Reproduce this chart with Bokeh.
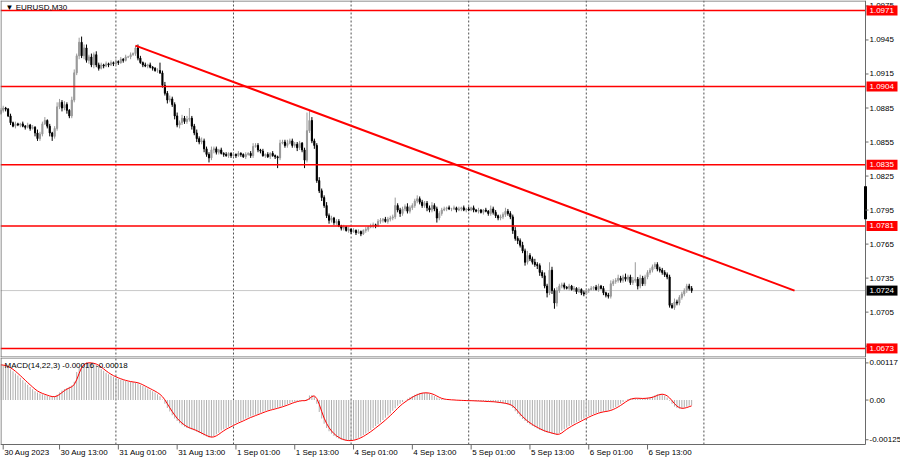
import numpy as np
from bokeh.plotting import figure
from bokeh.layouts import column
from bokeh.models import Range1d, Span, ColumnDataSource
from bokeh.core.properties import value
from bokeh.embed import file_html
from bokeh.resources import INLINE

# ---------------- data (EURUSD, M30) ----------------
first_open = 1.0880
closes = [
    1.0883, 1.0885, 1.0884, 1.0878, 1.0872, 1.0869, 1.0871, 1.0870, 1.0871, 1.0869,
    1.0868, 1.0870, 1.0867, 1.0868, 1.0863, 1.0858, 1.0862, 1.0871, 1.0874, 1.0869,
    1.0863, 1.0860, 1.0867, 1.0886, 1.0890, 1.0885, 1.0888, 1.0883, 1.0878, 1.0892,
    1.0916, 1.0931, 1.0943, 1.0931, 1.0938, 1.0927, 1.0930, 1.0923, 1.0932, 1.0923,
    1.0920, 1.0923, 1.0922, 1.0924, 1.0923, 1.0925, 1.0924, 1.0926, 1.0925, 1.0928,
    1.0927, 1.0930, 1.0930, 1.0932, 1.0933, 1.0938, 1.0929, 1.0925, 1.0923, 1.0922,
    1.0923, 1.0921, 1.0920, 1.0918, 1.0918, 1.0916, 1.0905, 1.0898, 1.0892, 1.0893,
    1.0888, 1.0878, 1.0870, 1.0872, 1.0876, 1.0873, 1.0875, 1.0876, 1.0869, 1.0863,
    1.0858, 1.0855, 1.0856, 1.0849, 1.0844, 1.0841, 1.0848, 1.0849, 1.0846, 1.0848,
    1.0845, 1.0844, 1.0843, 1.0845, 1.0843, 1.0844, 1.0843, 1.0845, 1.0844, 1.0842,
    1.0844, 1.0845, 1.0843, 1.0851, 1.0852, 1.0848, 1.0847, 1.0843, 1.0844, 1.0842,
    1.0845, 1.0843, 1.0842, 1.0841, 1.0854, 1.0855, 1.0852, 1.0854, 1.0856, 1.0852,
    1.0853, 1.0850, 1.0854, 1.0848, 1.0839, 1.0865, 1.0874, 1.0856, 1.0852, 1.0821,
    1.0812, 1.0806, 1.0799, 1.0790, 1.0786, 1.0788, 1.0784, 1.0785, 1.0781, 1.0779,
    1.0780, 1.0777, 1.0778, 1.0776, 1.0777, 1.0775, 1.0776, 1.0774, 1.0777, 1.0778,
    1.0780, 1.0781, 1.0782, 1.0781, 1.0785, 1.0786, 1.0787, 1.0785, 1.0787, 1.0788,
    1.0789, 1.0799, 1.0795, 1.0792, 1.0796, 1.0798, 1.0794, 1.0797, 1.0799, 1.0803,
    1.0805, 1.0802, 1.0799, 1.0801, 1.0797, 1.0795, 1.0799, 1.0796, 1.0788, 1.0792,
    1.0795, 1.0796, 1.0797, 1.0796, 1.0796, 1.0797, 1.0795, 1.0796, 1.0797, 1.0795,
    1.0796, 1.0795, 1.0797, 1.0795, 1.0794, 1.0795, 1.0793, 1.0795, 1.0794, 1.0792,
    1.0796, 1.0793, 1.0790, 1.0788, 1.0789, 1.0791, 1.0794, 1.0792, 1.0789, 1.0777,
    1.0770, 1.0768, 1.0764, 1.0759, 1.0749, 1.0755, 1.0752, 1.0749, 1.0747, 1.0746,
    1.0740, 1.0737, 1.0728, 1.0722, 1.0742, 1.0724, 1.0713, 1.0724, 1.0728, 1.0729,
    1.0727, 1.0726, 1.0728, 1.0725, 1.0726, 1.0723, 1.0725, 1.0722, 1.0721, 1.0724,
    1.0725, 1.0726, 1.0727, 1.0725, 1.0728, 1.0726, 1.0722, 1.0720, 1.0719, 1.0730,
    1.0732, 1.0733, 1.0735, 1.0733, 1.0736, 1.0734, 1.0736, 1.0731, 1.0733, 1.0734,
    1.0728, 1.0735, 1.0730, 1.0736, 1.0740, 1.0742, 1.0745, 1.0747, 1.0743, 1.0742,
    1.0740, 1.0738, 1.0736, 1.0711, 1.0709, 1.0714, 1.0713, 1.0718, 1.0721, 1.0724,
    1.0728, 1.0726, 1.0724,
]
# wick lengths above / below the candle body, in pips
upper_wick_pips = [
    2, 2, 1, 1, 2, 1, 2, 1, 1, 2,   1, 2, 1, 2, 1, 3, 2, 2, 3, 1,
    2, 1, 2, 4, 3, 2, 3, 2, 1, 3,   3, 2, 4, 5, 3, 3, 2, 3, 2, 3,
    2, 2, 1, 2, 1, 2, 1, 2, 1, 2,   1, 2, 1, 2, 1, 2, 3, 2, 1, 2,
    1, 2, 1, 1, 2, 7, 2, 3, 2, 3,   2, 2, 3, 2, 3, 2, 3, 9, 2, 2,
    3, 2, 3, 2, 2, 2, 3, 2, 2, 1,   2, 1, 2, 1, 1, 2, 1, 2, 1, 1,
    2, 1, 2, 3, 2, 2, 1, 2, 1, 2,   1, 2, 1, 1, 3, 2, 2, 3, 2, 2,
    2, 2, 2, 1, 2, 16, 9, 3, 2, 2,  3, 2, 2, 3, 2, 2, 1, 2, 2, 1,
    2, 1, 2, 1, 2, 1, 2, 1, 1, 2,   1, 2, 2, 1, 2, 2, 1, 2, 2, 2,
    2, 7, 2, 2, 2, 2, 3, 2, 2, 2,   3, 2, 2, 2, 2, 2, 3, 2, 2, 2,
    2, 2, 1, 2, 1, 2, 1, 2, 1, 2,   1, 2, 1, 2, 1, 2, 1, 1, 2, 1,
    3, 2, 2, 1, 2, 2, 3, 2, 2, 2,   3, 2, 2, 3, 2, 4, 2, 2, 3, 2,
    2, 2, 3, 2, 7, 3, 2, 3, 2, 2,   2, 1, 2, 1, 2, 1, 2, 1, 2, 2,
    1, 2, 1, 2, 2, 1, 2, 1, 2, 3,   2, 2, 3, 2, 2, 3, 2, 2, 3, 15,
    2, 3, 2, 2, 2, 2, 2, 2, 2, 2,   2, 2, 2, 2, 2, 3, 2, 2, 2, 2,
    2, 2, 2,
]
lower_wick_pips = [
    1, 2, 2, 1, 2, 1, 2, 1, 2, 1,   2, 1, 2, 1, 3, 2, 2, 2, 1, 2,
    3, 4, 2, 2, 2, 3, 2, 3, 2, 2,   2, 2, 3, 2, 3, 2, 3, 2, 3, 2,
    2, 1, 2, 1, 2, 1, 2, 1, 2, 1,   2, 1, 1, 2, 1, 2, 2, 1, 2, 1,
    2, 1, 2, 1, 2, 1, 2, 2, 3, 2,   2, 3, 2, 3, 2, 2, 2, 2, 3, 2,
    3, 2, 2, 3, 2, 4, 2, 3, 2, 2,   1, 2, 1, 2, 2, 1, 2, 1, 2, 1,
    2, 1, 2, 2, 1, 2, 2, 1, 2, 1,   2, 1, 2, 9, 2, 1, 2, 2, 1, 2,
    2, 3, 2, 2, 7, 2, 2, 2, 3, 2,   2, 3, 2, 2, 3, 2, 2, 2, 1, 2,
    2, 1, 2, 2, 1, 2, 1, 2, 1, 2,   2, 1, 2, 2, 1, 2, 2, 1, 2, 2,
    2, 2, 2, 3, 2, 2, 2, 2, 2, 2,   2, 2, 2, 2, 3, 2, 2, 2, 4, 2,
    2, 1, 2, 1, 2, 1, 2, 1, 2, 1,   2, 1, 1, 2, 1, 2, 1, 2, 1, 2,
    2, 2, 2, 2, 2, 2, 2, 2, 2, 3,   2, 3, 2, 2, 3, 2, 2, 2, 2, 3,
    3, 2, 2, 4, 2, 3, 5, 3, 2, 2,   2, 1, 2, 1, 2, 2, 1, 2, 2, 1,
    2, 1, 2, 1, 2, 1, 2, 2, 2, 2,   2, 2, 2, 2, 2, 2, 2, 2, 2, 2,
    3, 2, 2, 2, 2, 2, 2, 2, 2, 2,   2, 2, 2, 2, 1, 2, 2, 2, 2, 2,
    2, 2, 2,
]
# MACD(14,22,3) main values, in units of 0.00001
macd_main = [
    111, 109, 106, 102, 97, 91, 84, 77, 70, 62,
    55, 48, 41, 34, 28, 24, 21, 18, 15, 13,
    10, 10, 12, 17, 24, 30, 35, 38, 42, 46,
    58, 88, 106, 113, 117, 118, 117, 116, 114, 110,
    104, 98, 92, 86, 81, 77, 73, 70, 67, 64,
    62, 60, 58, 57, 56, 55, 52, 48, 44, 40,
    36, 32, 28, 24, 18, 12, 2, -12, -25, -36,
    -48, -58, -66, -73, -79, -84, -88, -90, -93, -96,
    -100, -104, -108, -112, -115, -118, -117, -113, -108, -103,
    -96, -92, -88, -84, -80, -76, -72, -69, -66, -62,
    -58, -55, -52, -49, -46, -43, -40, -37, -34, -32,
    -30, -28, -26, -24, -21, -19, -16, -13, -10, -7,
    -5, -3, -2, -1, -3, 3, 14, 16, 10, -12,
    -38, -58, -75, -88, -98, -106, -113, -118, -122, -125,
    -127, -128, -128, -127, -125, -122, -119, -115, -110, -105,
    -100, -94, -88, -82, -76, -70, -63, -56, -49, -42,
    -34, -26, -18, -12, -6, -1, 4, 9, 13, 17,
    20, 22, 23, 23, 22, 20, 17, 13, 8, 5,
    3, 2, 1, 1, 0, 0, -1, -1, -1, -2,
    -2, -2, -2, -3, -3, -3, -4, -4, -5, -5,
    -5, -6, -7, -8, -9, -10, -12, -14, -17, -25,
    -35, -44, -52, -60, -66, -72, -77, -82, -86, -90,
    -94, -97, -100, -102, -104, -106, -108, -110, -104, -97,
    -92, -87, -82, -78, -74, -70, -66, -62, -58, -54,
    -50, -47, -44, -41, -39, -37, -36, -35, -33, -30,
    -26, -22, -17, -12, -6, -1, 3, 5, 6, 6,
    5, 5, 5, 6, 7, 8, 11, 15, 18, 19,
    18, 14, 8, -2, -12, -20, -25, -27, -26, -24,
    -21, -18, -16,
]
signal_period = 3

levels = [1.0971, 1.0904, 1.0835, 1.0781, 1.0673]
last_price = 1.0724
trend_bars = [55, 324]
trend_prices = [1.0940, 1.0724]
scale_marker = [1.0787, 1.0816]

price_ticks = [1.0975, 1.0945, 1.0915, 1.0885, 1.0855, 1.0825,
               1.0795, 1.0765, 1.0735, 1.0705, 1.0675]
macd_ticks = [0.00117, 0.0, -0.00125]
macd_tick_labels = ["0.00117", "0.00", "-0.00125"]

day_sep_bars = [47, 95, 143, 191, 239, 287]
date_tick_bars = [1, 24, 48, 72, 96, 120, 144, 168, 192, 216, 240, 264]
date_tick_labels = ["30 Aug 2023", "30 Aug 13:00", "31 Aug 01:00", "31 Aug 13:00",
                    "1 Sep 01:00", "1 Sep 13:00", "4 Sep 01:00", "4 Sep 13:00",
                    "5 Sep 01:00", "5 Sep 13:00", "6 Sep 01:00", "6 Sep 13:00"]

# ---------------- derived ----------------
c = np.array(closes)
o = np.concatenate([[first_open], c[:-1]])
x = np.arange(len(c))
hi = np.maximum(o, c) + np.array(upper_wick_pips) * 1e-4
lo = np.minimum(o, c) - np.array(lower_wick_pips) * 1e-4
bull = c >= o
colors = np.where(bull, "#9a9a9a", "#000000")

m = np.array(macd_main) * 1e-5
sig = np.array([m[max(0, i - signal_period + 1):i + 1].mean() for i in range(len(m))])

# ---------------- geometry ----------------
FONT = value("Liberation Sans")
FRAME = "#6a6a6a"
TOTAL_W = 900
PLOT_W = 865                 # chart area; the rest is the price scale
bar_px = 2.45                # horizontal chart scale (pixels per M30 bar)
px_x = 1.0 / bar_px
X0 = -0.1
XAX = X0 + PLOT_W * px_x     # price-scale position (in bars)
X1 = X0 + TOTAL_W * px_x

H1 = 357
P_BOT, P_TOP = 1.0665, 1.09798
py1 = (P_TOP - P_BOT) / H1

H2_DATA, H2 = 87, 102
M_BOT, M_TOP = -0.00140, 0.00134
py2 = (M_TOP - M_BOT) / H2_DATA
M_FRAME_BOT = M_BOT - (H2 - H2_DATA) * py2


def base_fig(h, y0, y1):
    p = figure(frame_width=TOTAL_W, frame_height=h, x_range=Range1d(X0, X1),
               y_range=Range1d(y0, y1), output_backend="svg", toolbar_location=None,
               min_border=0)
    p.axis.visible = False
    p.grid.visible = False
    p.outline_line_color = None
    p.background_fill_color = "white"
    p.border_fill_color = "white"
    return p


# ---------------- price panel ----------------
p1 = base_fig(H1, P_BOT, P_TOP)

for b in day_sep_bars:
    p1.add_layout(Span(location=b, dimension="height", line_color="#505050",
                       line_dash="2 2", line_width=1, level="underlay"))
p1.segment(x0=[X0], y0=[last_price], x1=[XAX], y1=[last_price],
           line_color="#c8c8c8", line_width=1)

src = ColumnDataSource(dict(x=x, hi=hi, lo=lo, top=np.maximum(o, c),
                            bottom=np.minimum(o, c), color=colors))
p1.segment(x0="x", y0="lo", x1="x", y1="hi", line_color="color", line_width=1, source=src)
p1.vbar(x="x", width=0.45, top="top", bottom="bottom", fill_color="color",
        line_color="color", line_width=1, source=src)

p1.segment(x0=[X0] * len(levels), y0=levels, x1=[XAX] * len(levels), y1=levels,
           line_color="#ff0000", line_width=1.6)
p1.line(trend_bars, trend_prices, line_color="#ff0000", line_width=2)

# frame
p1.segment(x0=[X0 + 0.5 * px_x, XAX, X0, X0], y0=[P_BOT, P_BOT, P_TOP - 0.5 * py1, P_BOT + 0.5 * py1],
           x1=[X0 + 0.5 * px_x, XAX, XAX, XAX], y1=[P_TOP, P_TOP, P_TOP - 0.5 * py1, P_BOT + 0.5 * py1],
           line_color=FRAME, line_width=1)
p1.segment(x0=[XAX], y0=[scale_marker[0]], x1=[XAX], y1=[scale_marker[1]],
           line_color="#000000", line_width=3)
# price scale
p1.segment(x0=[XAX] * len(price_ticks), y0=price_ticks,
           x1=[XAX + 3 * px_x] * len(price_ticks), y1=price_ticks,
           line_color=FRAME, line_width=1)
p1.text(x=[XAX] * len(price_ticks), y=price_ticks, text=[f"{t:.4f}" for t in price_ticks],
        x_offset=4, text_align="left", text_baseline="middle", text_font=FONT,
        text_font_size="8px", text_color="#000000")

# level boxes
p1.rect(x=[XAX + 16.5 * px_x] * len(levels), y=levels, width=31, height=10,
        width_units="screen", height_units="screen", fill_color="#ff0000", line_color=None)
p1.text(x=[XAX] * len(levels), y=levels, text=[f"{lv:.4f}" for lv in levels],
        x_offset=4, text_align="left", text_baseline="middle", text_font=FONT,
        text_font_size="8px", text_color="#ffffff")
p1.rect(x=[XAX + 16.5 * px_x], y=[last_price], width=31, height=10,
        width_units="screen", height_units="screen", fill_color="#000000", line_color=None)
p1.text(x=[XAX], y=[last_price], text=[f"{last_price:.4f}"],
        x_offset=4, text_align="left", text_baseline="middle", text_font=FONT,
        text_font_size="8px", text_color="#ffffff")

p1.text(x=[X0], y=[P_TOP], text=["\u25bc EURUSD,M30"], x_offset=5, y_offset=2,
        text_align="left", text_baseline="top", text_font=FONT,
        text_font_size="8px", text_color="#000000")

# ---------------- MACD panel ----------------
p2 = base_fig(H2, M_FRAME_BOT, M_TOP)

p2.segment(x0=day_sep_bars, y0=[M_BOT] * len(day_sep_bars), x1=day_sep_bars,
           y1=[M_TOP] * len(day_sep_bars), line_color="#505050", line_dash="2 2", line_width=1)

msrc = ColumnDataSource(dict(x=x, m=m, sig=sig))
p2.vbar(x="x", width=0.42, top="m", bottom=0, fill_color="#b0b0b0", line_color=None, source=msrc)
p2.line(x="x", y="sig", line_color="#ff0000", line_width=1, source=msrc)

# frame
p2.segment(x0=[X0 + 0.5 * px_x, XAX, X0, X0], y0=[M_BOT, M_BOT, M_TOP - 0.5 * py2, M_BOT],
           x1=[X0 + 0.5 * px_x, XAX, XAX, XAX], y1=[M_TOP, M_TOP, M_TOP - 0.5 * py2, M_BOT],
           line_color=FRAME, line_width=1)
# MACD scale
p2.segment(x0=[XAX] * len(macd_ticks), y0=macd_ticks,
           x1=[XAX + 3 * px_x] * len(macd_ticks), y1=macd_ticks,
           line_color=FRAME, line_width=1)
p2.text(x=[XAX] * len(macd_ticks), y=macd_ticks, text=macd_tick_labels,
        x_offset=4, text_align="left", text_baseline="middle", text_font=FONT,
        text_font_size="8px", text_color="#000000")
# time scale
p2.segment(x0=date_tick_bars, y0=[M_BOT] * len(date_tick_bars), x1=date_tick_bars,
           y1=[M_BOT - 5 * py2] * len(date_tick_bars), line_color=FRAME, line_width=1)
p2.text(x=date_tick_bars, y=[M_BOT] * len(date_tick_bars), text=date_tick_labels,
        x_offset=1, y_offset=3, text_align="left", text_baseline="top", text_font=FONT,
        text_font_size="8px", text_color="#000000")

p2.text(x=[X0], y=[M_TOP], text=["MACD(14,22,3) -0.00016 -0.00018"], x_offset=4, y_offset=3,
        text_align="left", text_baseline="top", text_font=FONT,
        text_font_size="8px", text_color="#000000")

layout = column(p1, p2, spacing=0)
open("out.html", "w").write(file_html(layout, INLINE))
